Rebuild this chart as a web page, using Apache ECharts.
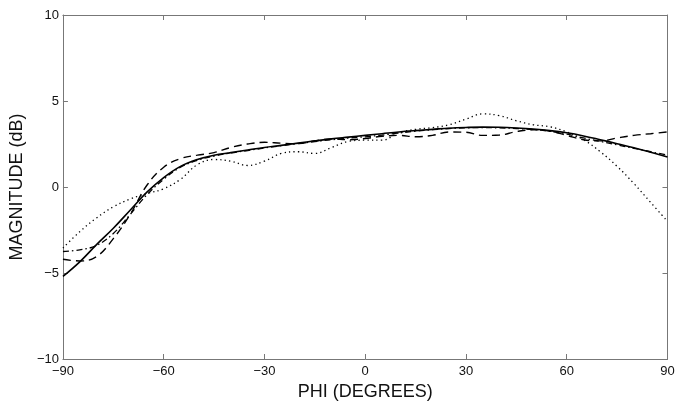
<!DOCTYPE html>
<html><head><meta charset="utf-8">
<script src="https://cdn.jsdelivr.net/npm/echarts@6/dist/echarts.min.js"></script>
<style>html,body{margin:0;padding:0;background:#fff}#c{width:689px;height:406px}</style>
</head><body><div id="c"></div>
<script>
const phi = [-90,-85,-80,-75,-70,-65,-60,-55,-50,-45,-40,-35,-30,-25,-20,-15,-10,-5,0,5,10,15,20,25,30,35,40,45,50,55,60,65,70,75,80,85,90];
const solid = [-5.2,-4.35,-3.35,-2.4,-1.35,-0.3,0.55,1.2,1.6,1.85,2.0,2.15,2.3,2.42,2.55,2.68,2.8,2.9,3.0,3.1,3.2,3.28,3.35,3.42,3.46,3.48,3.47,3.43,3.37,3.28,3.15,2.97,2.75,2.52,2.28,2.02,1.75];
const dashed = [-4.2,-4.3,-4.05,-3.0,-1.6,0.1,1.15,1.65,1.85,2.0,2.3,2.5,2.6,2.55,2.52,2.68,2.8,2.75,2.82,2.95,3.0,2.92,3.0,3.2,3.18,3.0,3.02,3.22,3.33,3.25,3.0,2.75,2.68,2.85,3.0,3.1,3.2];
const dashdot = [-3.75,-3.65,-3.4,-2.7,-1.6,-0.45,0.45,1.15,1.55,1.8,1.98,2.12,2.27,2.4,2.52,2.64,2.75,2.85,2.92,3.02,3.14,3.25,3.33,3.4,3.44,3.45,3.44,3.4,3.34,3.24,3.08,2.85,2.65,2.45,2.25,2.05,1.85];
const dotted = [-3.55,-2.6,-1.8,-1.15,-0.7,-0.38,-0.1,0.45,1.3,1.6,1.5,1.25,1.5,1.95,2.05,1.95,2.3,2.65,2.72,2.72,3.15,3.35,3.45,3.62,3.95,4.25,4.15,3.85,3.62,3.5,3.2,2.75,2.05,1.2,0.2,-0.9,-2.0];
const xTicks = {min:-90, max:90, interval:30};
const yTicks = {min:-10, max:10, interval:5};

const pairs = v => phi.map((x,i)=>[x,v[i]]);
const font = 'Liberation Sans, Arial, sans-serif';
const fmt = v => String(v).replace('-', '\u2212');
const axisLineStyle = {color:'#777', width:1};
function mkX(pos, show){
  return {type:'value', position:pos, min:xTicks.min, max:xTicks.max, interval:xTicks.interval,
    axisLine:{show:true, onZero:false, lineStyle:axisLineStyle},
    axisTick:{show:true, inside:true, length:5, lineStyle:axisLineStyle},
    axisLabel:{show:show, formatter:fmt, color:'#111', fontSize:13, fontFamily:font, margin:6},
    splitLine:{show:false},
    name: show ? 'PHI (DEGREES)' : '', nameLocation:'middle', nameGap:24,
    nameTextStyle:{fontSize:18, fontFamily:font, color:'#111'}};
}
function mkY(pos, show){
  return {type:'value', position:pos, min:yTicks.min, max:yTicks.max, interval:yTicks.interval,
    axisLine:{show:true, onZero:false, lineStyle:axisLineStyle},
    axisTick:{show:true, inside:true, length:5, lineStyle:axisLineStyle},
    axisLabel:{show:show, formatter:fmt, color:'#111', fontSize:13, fontFamily:font, margin:4},
    splitLine:{show:false},
    name: show ? 'MAGNITUDE (dB)' : '', nameLocation:'middle', nameGap:29,
    nameTextStyle:{fontSize:18, fontFamily:font, color:'#111'}};
}
function line(data, type, width, idx){
  return {type:'line', data:pairs(data), smooth:0.4, showSymbol:false, symbol:'none',
    lineStyle:{color:'#000', width:width, type:type}, z:idx, silent:true, animation:false};
}
const chart = echarts.init(document.getElementById('c'), null, {renderer:'canvas'});
chart.setOption({
  animation:false,
  backgroundColor:'#fff',
  grid:{left:62.5, right:21.5, top:15, bottom:41, containLabel:false},
  xAxis:[mkX('bottom', true), mkX('top', false)],
  yAxis:[mkY('left', true), mkY('right', false)],
  series:[
    line(solid, 'solid', 1.6, 4),
    line(dashed, [8,5], 1.4, 3),
    line(dashdot, [6,3,1.5,3], 1.3, 2),
    line(dotted, [1.3,3.2], 1.3, 1)
  ]
});
</script></body></html>
